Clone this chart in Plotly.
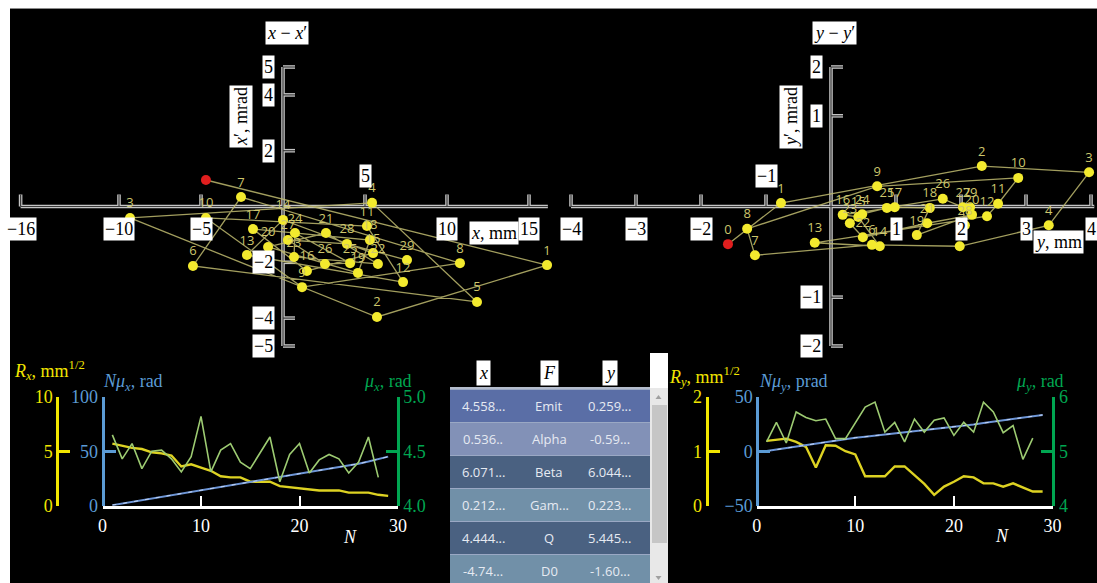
import plotly.graph_objects as go

W, H = 1097, 583

# ---------------- data ----------------
turns = list(range(30))
x_mm = [-4.70, 16.10, 5.73, -9.33, 5.43, 11.83, -5.49, -2.56, 10.79, 1.16,
        -4.70, 5.12, 7.32, -2.20, 0.00, 5.49, 1.46, -1.83, 5.30, 4.57,
        -0.91, 2.62, 5.79, 0.67, 0.73, 4.09, 2.56, 0.30, 3.90, 7.56]
xp_mrad = [0.95, -2.10, -3.96, -0.41, 0.13, -3.42, -2.13, 0.34, -2.03, -2.89,
           -0.41, -0.70, -2.71, -1.74, -0.48, -1.67, -2.31, -0.81, -1.20, -2.38,
           -1.45, -0.95, -2.06, -1.81, -0.95, -2.03, -2.06, -1.20, -1.34, -1.92]
y_mm = [-1.585, -0.77, 2.32, 3.97, 3.35, 1.98, 0.63, -1.17, -1.29, 0.71,
        2.88, 2.57, 2.40, -0.25, 0.75, 0.42, 0.18, 0.98, 1.52, 1.32,
        2.17, 1.48, 0.49, 0.29, 0.48, 0.86, 1.72, 2.03, 2.06, 2.14]
yp_mrad = [-0.54, 0.05, 0.58, 0.49, -0.27, -0.57, -0.55, -0.70, -0.32, 0.29,
           0.41, 0.04, -0.14, -0.52, -0.57, -0.15, -0.12, -0.01, -0.02, -0.41,
           -0.12, -0.24, -0.44, -0.24, -0.11, -0.02, 0.11, -0.01, -0.27, -0.01]

x_ticks = [-16, -10, -5, 5, 10, 15]
xp_ticks = [5, 4, 2, -2, -4, -5]
y_ticks = [-4, -3, -2, -1, 1, 2, 3, 4]
yp_tick_vals = [2, 1.3, -1.3, -2]
yp_tick_text = ["2", "1", "\u22121", "\u22122"]

N = list(range(1, 30))
N_mu = list(range(1, 29))
Rx = [5.7, 5.5, 5.3, 5.2, 4.9, 4.8, 4.6, 3.6, 3.8, 3.5, 3.2, 2.7, 2.6, 2.6, 2.2,
      2.2, 2.2, 1.8, 1.7, 1.6, 1.5, 1.4, 1.4, 1.4, 1.2, 1.2, 1.2, 1.0, 0.9]
Nmux = [0.5, 2.0, 3.5, 5.0, 6.5, 8.0, 9.5, 11.0, 12.5, 14.0, 15.5, 17.0, 18.5, 20.0, 21.5,
        23.0, 24.5, 26.0, 27.5, 29.0, 30.5, 32.0, 33.5, 35.0, 36.5, 38.5, 40.5, 42.5, 45.0]
mux = [4.65, 4.43, 4.57, 4.34, 4.50, 4.51, 4.43, 4.31, 4.45, 4.82, 4.31, 4.51, 4.57, 4.40,
       4.34, 4.48, 4.63, 4.22, 4.47, 4.57, 4.30, 4.42, 4.47, 4.43, 4.30, 4.40, 4.63, 4.26]
Ry = [1.19, 1.21, 1.23, 1.17, 1.08, 0.70, 1.11, 1.10, 1.00, 0.94, 0.54, 0.54, 0.54, 0.72, 0.72,
      0.56, 0.40, 0.20, 0.35, 0.44, 0.54, 0.52, 0.41, 0.41, 0.35, 0.41, 0.34, 0.26, 0.26]
Nmuy = [0.1, 1.5, 2.8, 4.2, 5.6, 6.9, 8.3, 9.7, 11.0, 12.4, 13.3, 14.3, 15.2, 16.2, 17.2,
        18.1, 19.1, 20.0, 21.0, 22.0, 23.2, 24.5, 25.8, 27.0, 28.3, 29.5, 30.8, 32.0, 33.3]
muy = [5.17, 5.53, 5.15, 5.72, 5.62, 5.56, 5.59, 5.23, 5.23, 5.53, 5.81, 5.90, 5.35, 5.53,
       5.17, 5.59, 5.35, 5.57, 5.61, 5.29, 5.53, 5.35, 5.90, 5.72, 5.34, 5.47, 4.85, 5.24]

N_ticks = [0, 10, 20, 30]
Rx_ticks = [0, 5, 10]
Nmux_ticks = [0, 50, 100]
mux_ticks = [4.0, 4.5, 5.0]
Ry_ticks = [0, 1, 2]
Nmuy_ticks = [-50, 0, 50]
muy_ticks = [4, 5, 6]

tbl_params = ["Emit", "Alpha", "Beta", "Gam...", "Q", "D0"]
tbl_x = ["4.558...", "0.536..", "6.071...", "0.212...", "4.444...", "-4.74..."]
tbl_y = ["0.259...", "-0.59...", "6.044...", "0.223...", "5.445...", "-1.60..."]

# ---------------- helpers ----------------
def fx(px):
    return px / W

def fy(py):
    return 1 - py / H

SERIF = "Liberation Serif"
SANS = "Open Sans"
YEL = "#f2e600"
BLU = "#5b9bd5"
GRN = "#00a651"

P1 = dict(px0=0, px1=560, py0=40, py1=360, ox=283, oy=206.5, sx=16.4, sy=27.9)
P2 = dict(px0=560, px1=1097, py0=40, py1=360, ox=831, oy=206.5, sx=65.0, sy=69.75)

def xrange_of(p):
    return [(p["px0"] - p["ox"]) / p["sx"], (p["px1"] - p["ox"]) / p["sx"]]

def yrange_of(p):
    return [(p["oy"] - p["py1"]) / p["sy"], (p["oy"] - p["py0"]) / p["sy"]]

fig = go.Figure()
shapes = []
annotations = []

BOX = dict(bgcolor="white", borderpad=1, showarrow=False, xanchor="center", yanchor="middle",
           font=dict(family=SERIF, size=18, color="black"))

# ---------------- phase plots ----------------
def phase_plot(p, xr, yr, hx, hy, xt, yt_vals, yt_text, above, us, vs, show_zero_label,
               title, ytitle, xtitle, title_px, ytitle_px, xtitle_px):
    outer, inner = [], []
    segs = [(hx[0], 0, hx[1], 0), (0, hy[0], 0, hy[1])]
    tk_up = 12 / p["sy"]
    tk_right = 12 / p["sx"]
    for t in xt:
        segs.append((t, 0, t, tk_up))
    for v in yt_vals:
        segs.append((0, v, tk_right, v))
    for (a, b, c, d) in segs:
        outer.append(dict(type="line", xref=xr, yref=yr, x0=a, y0=b, x1=c, y1=d,
                          layer="below", line=dict(color="#c4c4c4", width=3.6)))
        inner.append(dict(type="line", xref=xr, yref=yr, x0=a, y0=b, x1=c, y1=d,
                          layer="below", line=dict(color="#3c3c3c", width=1.2)))
    shapes.extend(outer + inner)

    for t in xt:
        lab = ("\u2212" + str(abs(t))) if t < 0 else str(t)
        ys = 31 if t in above else -22
        annotations.append(dict(BOX, x=t, y=0, xref=xr, yref=yr, text=lab, yshift=ys))
    for v, s in zip(yt_vals, yt_text):
        annotations.append(dict(BOX, x=0, y=v, xref=xr, yref=yr, text=s, xanchor="right",
                                xshift=-8))
    annotations.append(dict(BOX, x=fx(title_px[0]), y=fy(title_px[1]), xref="paper", yref="paper",
                            text=title))
    annotations.append(dict(BOX, x=fx(ytitle_px[0]), y=fy(ytitle_px[1]), xref="paper", yref="paper",
                            text=ytitle, textangle=-90))
    annotations.append(dict(BOX, x=fx(xtitle_px[0]), y=fy(xtitle_px[1]), xref="paper", yref="paper",
                            text=xtitle))

    # trajectory
    fig.add_trace(go.Scatter(x=us, y=vs, xaxis=xr, yaxis=yr, mode="lines",
                             line=dict(color="rgba(190,186,110,0.85)", width=1.3),
                             hoverinfo="skip", showlegend=False))
    fig.add_trace(go.Scatter(x=us[1:], y=vs[1:], xaxis=xr, yaxis=yr, mode="markers+text",
                             text=[str(n) for n in turns[1:]], textposition="top center",
                             textfont=dict(family=SANS, size=13, color="#cdc66c"),
                             marker=dict(color="#f3ea2e", size=10), cliponaxis=False,
                             showlegend=False))
    fig.add_trace(go.Scatter(x=us[:1], y=vs[:1], xaxis=xr, yaxis=yr,
                             mode="markers+text" if show_zero_label else "markers",
                             text=[str(turns[0])], textposition="top center",
                             textfont=dict(family=SANS, size=13, color="#cdc66c"),
                             marker=dict(color="#e01e1e", size=10), cliponaxis=False,
                             showlegend=False))

phase_plot(P1, "x", "y", (-16, 16.15), (-5, 5), x_ticks, xp_ticks,
           [str(v).replace("-", "\u2212") for v in xp_ticks],
           {5}, x_mm, xp_mrad, False,
           "<i>x</i> \u2212 <i>x</i>\u2032", "<i>x</i>\u2032, mrad", "<i>x</i>, mm",
           (287, 33), (241, 117), (494, 233))
phase_plot(P2, "x2", "y2", (-4, 4.05), (-2, 2), y_ticks, yp_tick_vals, yp_tick_text,
           {-1}, y_mm, yp_mrad, True,
           "<i>y</i> \u2212 <i>y</i>\u2032", "<i>y</i>\u2032, mrad", "<i>y</i>, mm",
           (834, 33), (791, 117), (1058, 242))

# ---------------- bottom charts ----------------
fig.add_trace(go.Scatter(x=N, y=Rx, xaxis="x3", yaxis="y3", mode="lines",
                         line=dict(color="#ddd222", width=2.4), showlegend=False))
fig.add_trace(go.Scatter(x=N, y=Nmux, xaxis="x3", yaxis="y4", mode="lines",
                         line=dict(color="#6d95d6", width=2), showlegend=False))
fig.add_trace(go.Scatter(x=N, y=Nmux, xaxis="x3", yaxis="y4", mode="lines",
                         line=dict(color="rgba(225,235,255,0.75)", width=1, dash="4px,7px"),
                         showlegend=False, hoverinfo="skip"))
fig.add_trace(go.Scatter(x=N_mu, y=mux, xaxis="x3", yaxis="y5", mode="lines",
                         line=dict(color="#9dcb72", width=1.6), showlegend=False))

fig.add_trace(go.Scatter(x=N, y=Ry, xaxis="x4", yaxis="y6", mode="lines",
                         line=dict(color="#ddd222", width=2.4), showlegend=False))
fig.add_trace(go.Scatter(x=N, y=Nmuy, xaxis="x4", yaxis="y7", mode="lines",
                         line=dict(color="#6d95d6", width=2), showlegend=False))
fig.add_trace(go.Scatter(x=N, y=Nmuy, xaxis="x4", yaxis="y7", mode="lines",
                         line=dict(color="rgba(225,235,255,0.75)", width=1, dash="4px,7px"),
                         showlegend=False, hoverinfo="skip"))
fig.add_trace(go.Scatter(x=N_mu, y=muy, xaxis="x4", yaxis="y8", mode="lines",
                         line=dict(color="#9dcb72", width=1.6), showlegend=False))

BOT_DOM = [fy(505.7), fy(396.7)]

def xaxis_bottom(px0, px1, anchor):
    return dict(domain=[fx(px0), fx(px1)], range=[0, 30], anchor=anchor, showline=True,
                linecolor="white", linewidth=3, ticks="inside", ticklen=10, tickwidth=2,
                tickcolor="white", tickvals=N_ticks, ticklabelstandoff=2,
                tickfont=dict(family=SERIF, size=18, color="white"),
                showgrid=False, zeroline=False, automargin=False, fixedrange=True)

def yaxis_side(pos, rng, vals, text, color, side="left", overlay=None):
    d = dict(domain=BOT_DOM, range=rng, anchor="free", position=fx(pos), side=side,
             showline=True, linecolor=color, linewidth=3, ticks="inside", ticklen=11,
             tickwidth=3, tickcolor=color, tickvals=vals, ticktext=text,
             tickfont=dict(family=SERIF, size=18, color=color),
             showgrid=False, zeroline=False, automargin=False, fixedrange=True)
    if overlay:
        d["overlaying"] = overlay
    return d

def lab(v):
    return str(v).replace("-", "\u2212")

layout_axes = dict(
    xaxis=dict(domain=[fx(P1["px0"]), fx(P1["px1"])], range=xrange_of(P1), visible=False, fixedrange=True),
    yaxis=dict(domain=[fy(P1["py1"]), fy(P1["py0"])], range=yrange_of(P1), visible=False, fixedrange=True),
    xaxis2=dict(domain=[fx(P2["px0"]), fx(P2["px1"]) - 1e-6], range=xrange_of(P2), visible=False,
                anchor="y2", fixedrange=True),
    yaxis2=dict(domain=[fy(P2["py1"]), fy(P2["py0"])], range=yrange_of(P2), visible=False,
                anchor="x2", fixedrange=True),
    xaxis3=xaxis_bottom(102.5, 398, "y3"),
    yaxis3=yaxis_side(57.3, [0, 10], Rx_ticks, [lab(v) for v in Rx_ticks], YEL),
    yaxis4=yaxis_side(102.7, [0, 100], Nmux_ticks, [lab(v) for v in Nmux_ticks], BLU, overlay="y3"),
    yaxis5=yaxis_side(397.7, [4, 5], mux_ticks, ["%.1f" % v for v in mux_ticks], GRN,
                      side="right", overlay="y3"),
    xaxis4=xaxis_bottom(756.7, 1052.5, "y6"),
    yaxis6=yaxis_side(706.7, [0, 2], Ry_ticks, [lab(v) for v in Ry_ticks], YEL),
    yaxis7=yaxis_side(757.3, [-50, 50], Nmuy_ticks, [lab(v) for v in Nmuy_ticks], BLU, overlay="y6"),
    yaxis8=yaxis_side(1053.3, [4, 6], muy_ticks, [lab(v) for v in muy_ticks], GRN,
                      side="right", overlay="y6"),
)

def ptext(text, px, py, color, xanchor="center", size=18):
    annotations.append(dict(x=fx(px), y=fy(py), xref="paper", yref="paper", text=text,
                            showarrow=False, xanchor=xanchor, yanchor="middle",
                            font=dict(family=SERIF, size=size, color=color)))

ptext("<i>R<sub>x</sub></i>, mm<sup>1/2</sup>", 12, 370, YEL, "left")
ptext("<i>N\u03bc<sub>x</sub></i>, rad", 133, 382, BLU)
ptext("<i>\u03bc<sub>x</sub></i>, rad", 388, 382, GRN)
ptext("<i>N</i>", 350, 537, "white")
ptext("<i>R<sub>y</sub></i>, mm<sup>1/2</sup>", 667, 376, YEL, "left")
ptext("<i>N\u03bc<sub>y</sub></i>, prad", 793, 382, BLU)
ptext("<i>\u03bc<sub>y</sub></i>, rad", 1040, 382, GRN)
ptext("<i>N</i>", 1002, 536, "white")

# ---------------- table ----------------
row_colors = ["#5a6ea6", "#8291b7", "#4a6181", "#7190a8", "#4a6181", "#7190a8"]
row_top, row_h = 389.5, 33
col_cx = [483, 549, 610]
for i, (px_, pr, py_) in enumerate(zip(tbl_x, tbl_params, tbl_y)):
    y0 = row_top + i * row_h
    shapes.append(dict(type="rect", xref="paper", yref="paper", x0=fx(450), x1=fx(650),
                       y0=fy(y0 + row_h), y1=fy(y0), fillcolor=row_colors[i],
                       line=dict(width=0), layer="above"))
    shapes.append(dict(type="line", xref="paper", yref="paper", x0=fx(450), x1=fx(650),
                       y0=fy(y0), y1=fy(y0), line=dict(color="#9aa8c4", width=1), layer="above"))
    for cx, t in zip(col_cx, (px_, pr, py_)):
        annotations.append(dict(x=fx(cx), y=fy(y0 + row_h / 2), xref="paper", yref="paper",
                                text=t, showarrow=False, xanchor="center", yanchor="middle",
                                font=dict(family=SANS, size=13, color="#e6eaf2")))
shapes.append(dict(type="line", xref="paper", yref="paper", x0=fx(450), x1=fx(650),
                   y0=fy(388), y1=fy(388), line=dict(color="#b4bccc", width=2), layer="above"))
for cx, t in zip(col_cx, ["<i>x</i>", "<i>F</i>", "<i>y</i>"]):
    annotations.append(dict(x=fx(cx), y=fy(373), xref="paper", yref="paper", text=t,
                            showarrow=False, bgcolor="white", borderpad=2,
                            xanchor="center", yanchor="middle",
                            font=dict(family=SERIF, size=18, color="black")))
# scrollbar
shapes.append(dict(type="rect", xref="paper", yref="paper", x0=fx(650), x1=fx(668),
                   y0=fy(388), y1=fy(353), fillcolor="white", line=dict(width=0), layer="above"))
shapes.append(dict(type="rect", xref="paper", yref="paper", x0=fx(650), x1=fx(668),
                   y0=0, y1=fy(388), fillcolor="#e8e8e8", line=dict(width=0), layer="above"))
shapes.append(dict(type="rect", xref="paper", yref="paper", x0=fx(652), x1=fx(667),
                   y0=fy(543), y1=fy(405), fillcolor="#c6c6c6", line=dict(width=0), layer="above"))
for (cy, d) in ((397, -1), (578, 1)):
    shapes.append(dict(type="path", xref="paper", yref="paper",
                       path="M %f %f L %f %f L %f %f Z" % (fx(655.5), fy(cy - 2 * d), fx(661.5), fy(cy - 2 * d),
                                                         fx(658.5), fy(cy + 2 * d)),
                       fillcolor="#a0a0a0", line=dict(width=0), layer="above"))

# ---------------- frame ----------------
shapes.append(dict(type="rect", xref="paper", yref="paper", x0=0, x1=fx(10), y0=0, y1=1,
                   fillcolor="white", line=dict(width=0), layer="above"))
shapes.append(dict(type="rect", xref="paper", yref="paper", x0=0, x1=1, y0=fy(8), y1=1,
                   fillcolor="white", line=dict(width=0), layer="above"))
shapes.append(dict(type="line", xref="paper", yref="paper", x0=fx(10), x1=1, y0=fy(8.5), y1=fy(8.5),
                   line=dict(color="#8a8a8a", width=1), layer="above"))

fig.update_layout(
    width=W, height=H, margin=dict(l=0, r=0, t=0, b=0, pad=0),
    paper_bgcolor="black", plot_bgcolor="rgba(0,0,0,0)",
    showlegend=False, shapes=shapes, annotations=annotations,
    **layout_axes,
)

fig.write_html("out.html", config={"displayModeBar": False},
               post_script="document.body.style.margin='0';document.body.style.overflow='hidden';")
